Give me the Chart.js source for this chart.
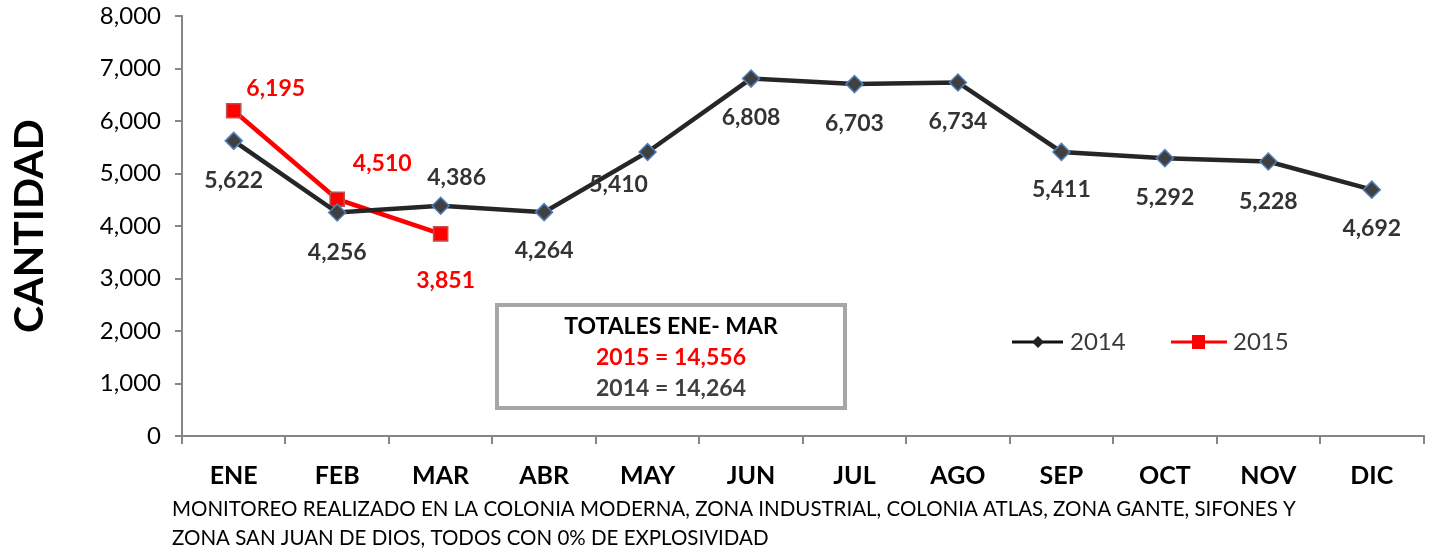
<!DOCTYPE html>
<html>
<head>
<meta charset="utf-8">
<script src="https://cdn.jsdelivr.net/npm/chart.js@4.4.1/dist/chart.umd.min.js"></script>
<style>
  html, body { margin: 0; padding: 0; background: #fff; }
  #wrap { width: 1435px; height: 552px; position: relative; }
</style>
</head>
<body>
<div id="wrap"><canvas id="lineChart"></canvas></div>
<script>
const months = ['ENE', 'FEB', 'MAR', 'ABR', 'MAY', 'JUN', 'JUL', 'AGO', 'SEP', 'OCT', 'NOV', 'DIC'];
const values2014 = [5622, 4256, 4386, 4264, 5410, 6808, 6703, 6734, 5411, 5292, 5228, 4692];
const values2015 = [6195, 4510, 3851];
const yTicks = [0, 1000, 2000, 3000, 4000, 5000, 6000, 7000, 8000];
const totalsLines = ['TOTALES ENE- MAR', '2015 = 14,556', '2014 = 14,264'];
const footerLines = [
    'MONITOREO REALIZADO EN LA COLONIA MODERNA, ZONA INDUSTRIAL, COLONIA ATLAS, ZONA GANTE, SIFONES Y',
    'ZONA SAN JUAN DE DIOS, TODOS CON 0% DE EXPLOSIVIDAD'
];

const FONT = 'Lato, "Liberation Sans", sans-serif';
const fmt = v => v.toLocaleString('en-US');

// label offsets (px) relative to each point
const labelOffsets = {
    0: [[0, 40], [0, 40], [16, -28], [0, 38], [-29, 33], [0, 39], [0, 39], [0, 39], [0, 38], [0, 39], [0, 40], [0, 39]],
    1: [[42, -22], [45, -36], [5, 47]]
};

const extrasPlugin = {
    id: 'extras',
    afterDatasetsDraw(chart) {
        const ctx = chart.ctx;
        ctx.save();
        ctx.textAlign = 'center';
        ctx.textBaseline = 'middle';
        ctx.font = `bold 23px ${FONT}`;
        chart.data.datasets.forEach((ds, i) => {
            const meta = chart.getDatasetMeta(i);
            ctx.fillStyle = i === 0 ? '#333333' : '#ff0000';
            meta.data.forEach((pt, j) => {
                const off = labelOffsets[i][j];
                ctx.fillText(fmt(ds.data[j]), pt.x + off[0], pt.y + off[1]);
            });
        });
        ctx.restore();
    },
    afterDraw(chart) {
        const ctx = chart.ctx;
        ctx.save();

        // y axis title
        ctx.translate(30, 226);
        ctx.rotate(-Math.PI / 2);
        ctx.font = `bold 41px ${FONT}`;
        ctx.fillStyle = '#000';
        ctx.textAlign = 'center';
        ctx.textBaseline = 'middle';
        ctx.fillText('CANTIDAD', 0, 0);
        ctx.setTransform(1, 0, 0, 1, 0, 0);

        // totals box
        ctx.strokeStyle = '#a6a6a6';
        ctx.lineWidth = 4;
        ctx.strokeRect(497, 305, 348, 103);
        ctx.font = `bold 23px ${FONT}`;
        const colors = ['#000000', '#ff0000', '#404040'];
        totalsLines.forEach((t, k) => {
            ctx.fillStyle = colors[k];
            ctx.fillText(t, 671, 327 + k * 31);
        });

        // legend
        ctx.lineWidth = 3;
        ctx.strokeStyle = '#111';
        ctx.beginPath(); ctx.moveTo(1012, 342); ctx.lineTo(1063, 342); ctx.stroke();
        ctx.fillStyle = '#222';
        ctx.beginPath();
        ctx.moveTo(1038, 336); ctx.lineTo(1044, 342); ctx.lineTo(1038, 348); ctx.lineTo(1032, 342);
        ctx.closePath(); ctx.fill();
        ctx.strokeStyle = '#ff0000';
        ctx.beginPath(); ctx.moveTo(1171, 342); ctx.lineTo(1227, 342); ctx.stroke();
        ctx.fillStyle = '#ff0000';
        ctx.fillRect(1192, 335, 13, 14);
        ctx.font = `24px ${FONT}`;
        ctx.textAlign = 'left';
        ctx.fillStyle = '#3a3a3a';
        ctx.fillText('2014', 1070, 342);
        ctx.fillText('2015', 1233, 342);

        // footer note
        ctx.font = `20.5px ${FONT}`;
        ctx.fillStyle = '#000';
        footerLines.forEach((t, k) => ctx.fillText(t, 172, 509 + k * 29));
        ctx.restore();
    }
};

const data = {
    labels: months,
    datasets: [{
        label: '2014',
        data: values2014,
        borderColor: '#262626',
        borderWidth: 4.5,
        pointStyle: 'rectRot',
        pointRadius: 8.5,
        pointBackgroundColor: '#404040',
        pointBorderColor: '#4f81bd',
        pointBorderWidth: 1.5,
        tension: 0
    }, {
        label: '2015',
        data: values2015,
        borderColor: '#ff0000',
        borderWidth: 4.5,
        pointStyle: 'rect',
        pointRadius: 10,
        pointBackgroundColor: '#ff0000',
        pointBorderColor: '#c0504d',
        pointBorderWidth: 1.5,
        tension: 0
    }]
};

const options = {
    animation: false,
    responsive: true,
    maintainAspectRatio: false,
    layout: { padding: { top: 16, right: 11, left: 0, bottom: 0 } },
    scales: {
        x: {
            offset: true,
            border: { color: '#868686', width: 2 },
            grid: { display: true, drawOnChartArea: false, offset: true, tickLength: 8, color: '#868686', lineWidth: 2 },
            ticks: { color: '#000', font: { family: FONT, size: 25, weight: 'bold' }, padding: 17, maxRotation: 0 },
            afterFit: s => { s.height = 116; s.paddingLeft = 0; s.paddingRight = 0; }
        },
        y: {
            min: 0,
            max: 8000,
            afterBuildTicks: s => { s.ticks = yTicks.map(v => ({ value: v })); },
            border: { color: '#868686', width: 2 },
            grid: { display: true, drawOnChartArea: false, tickLength: 7, color: '#868686', lineWidth: 2 },
            ticks: { color: '#000', font: { family: FONT, size: 24 }, padding: 14, callback: v => fmt(v) },
            afterFit: s => { s.width = 182; s.paddingTop = 0; s.paddingBottom = 0; }
        }
    },
    plugins: {
        legend: { display: false },
        tooltip: { enabled: false }
    }
};

const chart = new Chart(document.getElementById('lineChart'), {
    type: 'line',
    data,
    options,
    plugins: [extrasPlugin]
});
</script>
</body>
</html>
